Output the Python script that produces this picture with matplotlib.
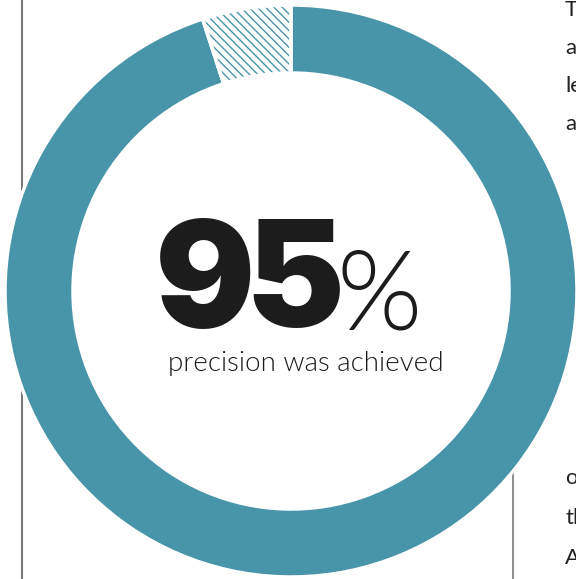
import matplotlib.pyplot as plt

# donut values (percent)
labels = ['achieved', 'missed']
values = [95, 5]
big_number = '95'
caption = 'precision was achieved'
# clipped paragraph text at the right edge
side_top = ['The', 'accuracy', 'level', 'across']
side_bottom = ['of', 'the', 'All']

teal = '#4895a9'
plt.rcParams['hatch.linewidth'] = 1.0
plt.rcParams['hatch.color'] = teal

fig = plt.figure(figsize=(5.76, 5.79), dpi=100)
ax = fig.add_axes([0, 0, 1, 1])

cx, cy, r = 291, 288, 286
width = 68

wedges, _ = ax.pie(values, startangle=90, counterclock=False, center=(cx, cy), radius=r,
                   colors=[teal, 'white'], wedgeprops=dict(width=width, linewidth=0),
                   frame=True)
wedges[1].set_hatch('\\\\\\\\')
wedges[1].set_edgecolor(teal)
wedges[1].set_linewidth(0)

# white gaps between slices
ax.pie(values, startangle=90, counterclock=False, center=(cx, cy), radius=r,
       colors=['none', 'none'], wedgeprops=dict(width=width, linewidth=2.5, edgecolor='white'),
       frame=True)
ax.set_xlim(0, 576)
ax.set_ylim(0, 579)
ax.set_aspect('equal')
ax.axis('off')

# vertical rules
ax.plot([22, 22], [0, 579], color='#7a7a7a', lw=1.5, zorder=0)
ax.plot([513, 513], [0, 109], color='#7a7a7a', lw=1.2, zorder=0)

# big number, digits set tightly
for i, ch in enumerate(big_number):
    ax.text(205 + i * 90, 306, ch, fontsize=107, fontweight=900, family='Inter',
            color='#1c1c1c', ha='center', va='center_baseline')
ax.text(379, 290, '%', fontsize=79, fontweight=300, family='Lato',
        color='#1c1c1c', ha='center', va='center_baseline')
ax.text(306, 215, caption, fontsize=20, fontweight=300, family='Lato',
        color='#1c1c1c', ha='center', va='center')

for i, w in enumerate(side_top):
    ax.text(565, 569 - i * 38, w, fontsize=16, family='Lato', color='#222222',
            ha='left', va='center', clip_on=False)
for i, w in enumerate(side_bottom):
    ax.text(565, 101 - i * 40, w, fontsize=16, family='Lato', color='#222222',
            ha='left', va='center', clip_on=False)

fig.savefig('out.png', dpi=100)
